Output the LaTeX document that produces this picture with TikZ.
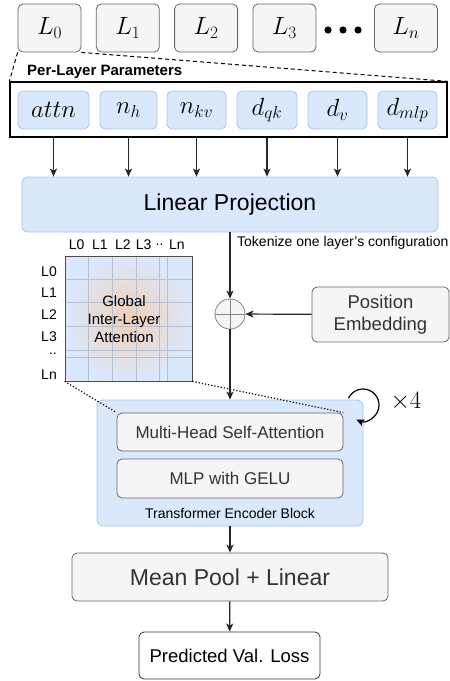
\documentclass[tikz,border=0pt]{standalone}
\usepackage{fontspec}
\setmainfont{Liberation Sans}
\usetikzlibrary{arrows.meta,positioning}

\definecolor{blueFill}{HTML}{DAE8FC}
\definecolor{blueLine}{HTML}{A9C4EB}
\definecolor{grayFill}{HTML}{F5F5F5}
\definecolor{grayLine}{HTML}{666666}
\definecolor{darkText}{HTML}{333333}
\definecolor{glow}{HTML}{F9C79C}
\definecolor{gridLine}{HTML}{B4C0D0}

\newcommand{\fsz}[1]{\fontsize{#1}{#1}\selectfont}
\newcommand{\fszl}[2]{\fontsize{#1}{#2}\selectfont}

\begin{document}
\begin{tikzpicture}[x=1pt,y=-1pt,>={Stealth[length=8pt,width=7pt,inset=2pt]}]
       \tikzset{
         layer/.style={draw=grayLine, fill=grayFill, rounded corners=5pt, line width=0.8pt,
           minimum width=63pt, minimum height=48pt, inner sep=0pt, font=\fsz{25}},
         param/.style={draw=blueLine, fill=blueFill, rounded corners=5pt, line width=0.8pt,
           minimum height=38pt, inner sep=0pt, font=\fsz{23.5}},
         graybox/.style={draw=grayLine, fill=grayFill, rounded corners=5pt, line width=0.8pt,
           inner sep=0pt, text=darkText},
         bluebox/.style={draw=blueLine, fill=blueFill, rounded corners=6pt, line width=0.8pt,
           inner sep=0pt},
         flow/.style={->, line width=1.2pt, black!85},
         axislabel/.style={font=\fsz{14}, inner sep=0pt}
       }
       \useasboundingbox (0,0) rectangle (450,681);

       % layers of the network
       \foreach \i in {0,...,3}
         \node[layer] (L\i) at (49.5+78.3*\i,28) {$L_\i$};
       \node[layer] (Ln) at (406,28) {$L_n$};
       \foreach \x in {328,343,358}
         \fill (\x,30) circle (3.6pt);

       % per-layer parameters
       \node[draw, line width=1.3pt, minimum width=437pt, minimum height=55pt, inner sep=0pt]
         (params) at (228.5,109.5) {};
       \node[anchor=west, font=\fsz{15}\bfseries, inner sep=0pt] (plabel) at (27,72) {Per-Layer Parameters};
       \node[param, minimum width=71pt] (attn) at (53.5,110)  {$attn$};
       \node[param, minimum width=57pt] (nh)   at (128.5,110) {$n_h$};
       \node[param, minimum width=59pt] (nkv)  at (196.5,110) {$n_{kv}$};
       \node[param, minimum width=60pt] (dqk)  at (267,110)   {$d_{qk}$};
       \node[param, minimum width=59pt] (dv)   at (337.5,110) {$d_v$};
       \node[param, minimum width=59pt] (dmlp) at (407.5,110) {$d_{mlp}$};
       \draw[dashed, line width=1pt, dash pattern=on 4pt off 3pt]
         (L0.south west) -- (params.north west)
         (L0.south east) -- (params.north east);

       % projection and embedding
       \node[bluebox, minimum width=416pt, minimum height=55pt, font=\fsz{23}]
         (lp) at (230,204.5) {Linear Projection};
       \foreach \p in {attn,nh,nkv,dqk,dv,dmlp}
         \draw[flow] (\p |- params.south) -- (\p |- lp.north);
       \node[anchor=west, font=\fsz{14}, inner sep=0pt] (tok) at (237,243) {Tokenize one layer's configuration};
       \node[circle, draw=grayLine!80, fill=grayFill, line width=0.8pt, minimum size=30pt, inner sep=0pt]
         (sum) at (230,314) {};
       \draw[grayLine!80, line width=0.8pt] (sum.north) -- (sum.south) (sum.west) -- (sum.east);
       \node[graybox, minimum width=137pt, minimum height=55pt, align=center, font=\fszl{18.5}{22}]
         (pos) at (380.5,314.5) {Position\\Embedding};

       % attention map
       \node[draw=black!70, line width=0.8pt, minimum width=127pt, minimum height=125pt,
         inner color=glow!75!blueFill, outer color=blueFill] (attmap) at (128.5,318.5) {};
       \foreach \x in {88,112,136,159,167}
         \draw[gridLine, line width=0.7pt] (\x,256.5) -- (\x,380.5);
       \foreach \y in {279,302,326,350,357}
         \draw[gridLine, line width=0.7pt] (65.5,\y) -- (191.5,\y);
       \foreach \lab/\x in {L0/76.7,L1/100,L2/123,L3/143.7,../159.5,Ln/177}
         \node[axislabel] at (\x,245) {\lab};
       \foreach \lab/\y in {L0/272,L1/293,L2/315,L3/337,../354,Ln/375}
         \node[axislabel, anchor=east] at (57,\y) {\lab};
       \node[align=center, font=\fszl{15}{18}, inner sep=0pt]
         (glabel) at (124,319) {Global\\Inter-Layer\\Attention};

       % encoder
       \node[bluebox, minimum width=266pt, minimum height=126pt] (block) at (230,463) {};
       \node[font=\fsz{14}, inner sep=0pt] (blabel) at (230,513) {Transformer Encoder Block};
       \node[graybox, minimum width=226pt, minimum height=38pt, font=\fsz{17}] (mhsa) at (230,432) {Multi-Head Self-Attention};
       \node[graybox, minimum width=226pt, minimum height=39pt, font=\fsz{17}] (mlp) at (230,478.5) {MLP with GELU};
       \draw[dotted, line width=1.2pt]
         (attmap.south west) -- (mhsa.north west)
         (attmap.south east) -- (mhsa.north east);
       \coordinate (loopc) at (363,405);
       \draw[->, line width=1.2pt] ([shift={(-155:16)}]loopc) arc[start angle=-155, end angle=115, radius=16];
       \node[font=\fsz{24}, inner sep=0pt] (times) at (406,402) {$\times 4$};

       % head
       \node[graybox, minimum width=316pt, minimum height=48pt, font=\fsz{23}] (pool) at (230,577) {Mean Pool + Linear};
       \node[draw=darkText, fill=white, rounded corners=5pt, line width=0.8pt, inner sep=0pt,
         minimum width=181pt, minimum height=47pt, font=\fsz{18.5}] (pred) at (229.5,655.5) {Predicted Val. Loss};

       \draw[flow] (lp) -- (sum);
       \draw[flow] (pos) -- (sum);
       \draw[flow] (sum) -- (block);
       \draw[flow] (block) -- (pool);
       \draw[flow] (pool) -- (pred);
\end{tikzpicture}
\end{document}
